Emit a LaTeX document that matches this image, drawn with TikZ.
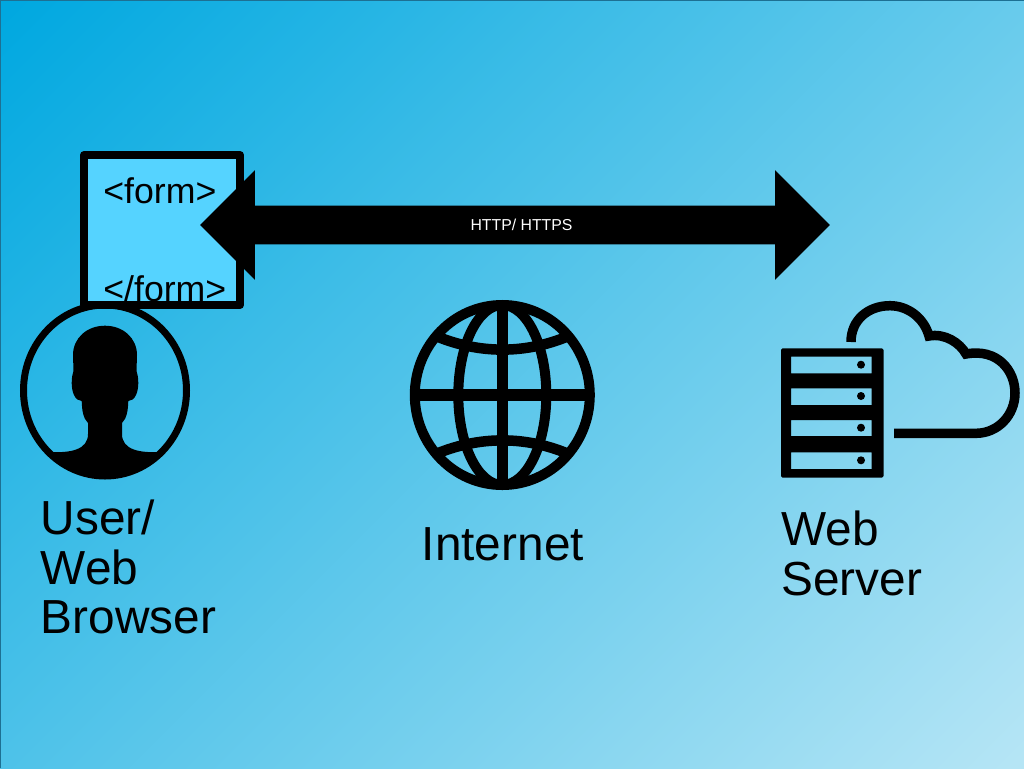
\documentclass[tikz,border=0pt]{standalone}
\usepackage{fontspec}
\setmainfont{Liberation Sans}
\usetikzlibrary{shapes.arrows}
\definecolor{bgstart}{HTML}{00A8E0}
\definecolor{bgend}{HTML}{B5E5F5}
\definecolor{bgedge}{HTML}{1D7093}
\definecolor{formblue}{HTML}{55D3FF}
\tikzset{
  formbox/.style={draw=black,fill=formblue,line width=1.6mm,line join=round,minimum width=3.12cm,minimum height=3cm,inner sep=0},
  formtag/.style={anchor=base west,inner sep=0,font=\fontsize{20.3}{24}\selectfont},
  bigarrow/.style={double arrow,fill=black,inner sep=0,text height=0.38cm,text depth=0.38cm,minimum height=12.6cm,double arrow head extend=0.71cm,double arrow tip angle=90},
  arrowlabel/.style={text=white,inner sep=0,font=\fontsize{9}{11}\selectfont},
  iconline/.style={draw=black,line width=2mm},
  biglabel/.style={anchor=north west,align=left,inner sep=0,font=\fontsize{27.2}{28}\selectfont}
}
\begin{document}
\begin{tikzpicture}[x=0.02cm,y=-0.02cm]
\useasboundingbox (0,0) rectangle (1024,768);
\begin{scope}
\clip (0,0) rectangle (1024,768);
\shade[top color=bgstart,bottom color=bgend,shading angle=45] (-204.8,-153.6) rectangle (1228.8,921.6);
\end{scope}
\draw[bgedge,line width=0.4mm] (0,768)--(0,0)--(1024,0);
% form box
\node[formbox] (formbox) at (162,230) {};
\node[formtag] (formopen) at (103,203) {<form>};
\node[formtag] (formclose) at (103,301) {</form>};
\draw[black,line width=1.6mm] (84,305)--(240,305);
% arrow
\node[bigarrow] (http) at (515,225) {};
\node[arrowlabel] (httplabel) at (521.5,225) {HTTP/ HTTPS};
% user
\draw[iconline,line width=1.4mm] (105,390.5) ellipse (81.5 and 85.5);
\begin{scope}
\clip (105,390.5) ellipse (81.5 and 85.5);
\fill[black] (50,452) .. controls (70,453) and (88,450) .. (88,434) -- (88,423)
  .. controls (83,418) and (82,410) .. (81.7,401) .. controls (75,401) and (71.7,392) .. (71.7,383)
  .. controls (71.7,376) and (73,373) .. (73.5,371) -- (73,355)
  .. controls (73,338) and (87,325.7) .. (105,325.7) .. controls (123,325.7) and (137,338) .. (137,355)
  -- (136.5,371) .. controls (137,373) and (138.3,376) .. (138.3,383)
  .. controls (138.3,392) and (135,401) .. (128.3,401) .. controls (128,410) and (127,418) .. (122,423)
  -- (122,434) .. controls (122,450) and (140,453) .. (160,452) -- (180,500) -- (30,500) -- cycle;
\end{scope}
\node[biglabel] (userlabel) at (40.5,500) {User/\\Web\\Browser};
% globe
\draw[iconline] (502.3,395) ellipse (87.5 and 90);
\draw[iconline] (502.3,395) ellipse (44 and 90);
\draw[iconline,line width=2.2mm] (502.3,305)--(502.3,485);
\draw[iconline,line width=2.3mm] (415,395)--(590,395);
\draw[iconline,line width=2.1mm] (437,336.5) .. controls (480,354) and (525,354) .. (567.5,336.5);
\draw[iconline,line width=2.1mm] (437,453.5) .. controls (480,436) and (525,436) .. (567.5,453.5);
\node[biglabel] (netlabel) at (421.5,527) {Internet};
% server
\fill[black,even odd rule] [rounded corners=0.03cm] (781,348.3) rectangle (883.5,477.7)
  [sharp corners] (791,356.7) rectangle (871.7,373.3) (791,388.3) rectangle (871.7,405)
  (791,420) rectangle (871.7,436) (791,452.3) rectangle (871.7,469);
\foreach \y in {364.7,396,427.7,460.3}{
\fill[black] (861,\y) circle (4);
}
% cloud
\draw[iconline,line width=1.9mm] (851,342) .. controls (851,320) and (868,305.7) .. (890,305.7)
  .. controls (908,305.7) and (924,318) .. (929,336) .. controls (945,333) and (960,343) .. (966,354)
  .. controls (998,348) and (1015,371) .. (1015,393) .. controls (1015,415) and (998,433.3) .. (976,433.3)
  -- (894,433.3);
\node[biglabel] (serverlabel) at (781,511) {Web\\Server};
\end{tikzpicture}
\end{document}
